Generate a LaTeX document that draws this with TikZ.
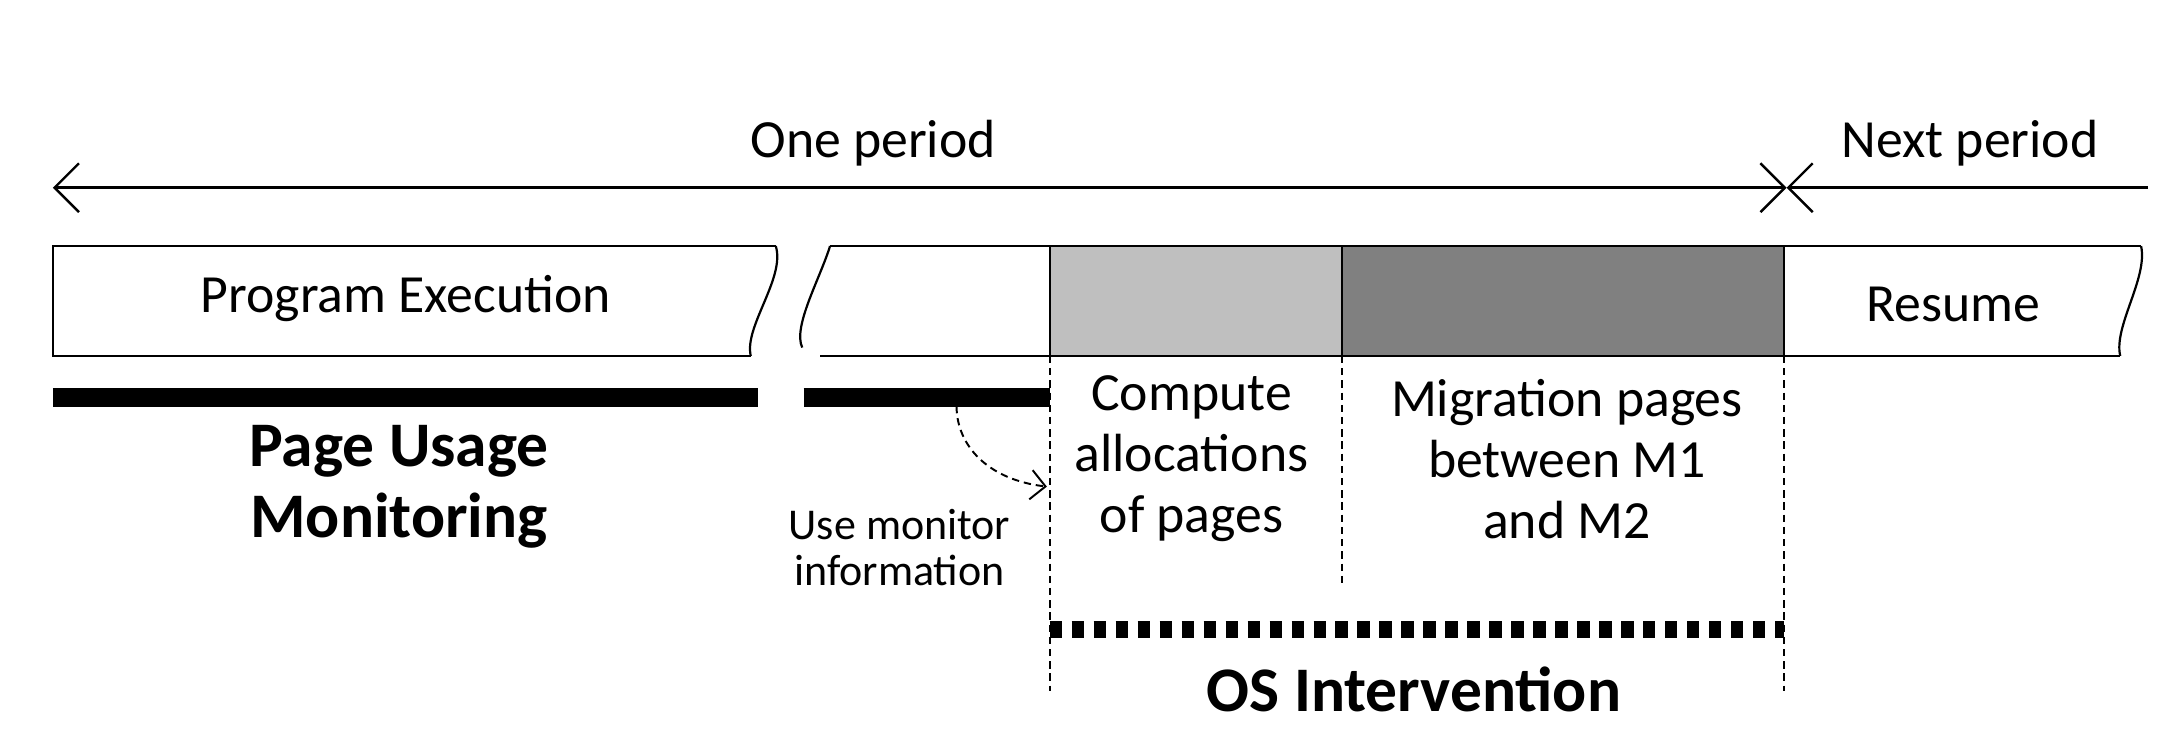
\documentclass[tikz,border=0pt]{standalone}
\usepackage{fontspec}
\setmainfont{Carlito}
\usetikzlibrary{arrows.meta}
\begin{document}
\begin{tikzpicture}[x=0.02cm,y=-0.02cm,
  lbl/.style={font=\fontsize{22}{25}\selectfont,align=center,inner sep=0},
  big/.style={font=\fontsize{26}{29}\selectfont\bfseries,align=center,inner sep=0},
  small/.style={font=\fontsize{18}{19}\selectfont,align=center,inner sep=0},
  per/.style={line width=1pt,{Straight Barb[length=10pt,width=20pt]}-{Straight Barb[length=10pt,width=20pt]}},
  bar/.style={line width=8pt},
  dsh/.style={densely dashed,line width=0.8pt}]
\useasboundingbox (0,0) rectangle (1568,540);
% period arrows
\coordinate (pL) at (38,135); \coordinate (pR) at (1285,135); \coordinate (nR) at (1545,135);
\draw[per] (pL) -- (pR);
\draw[line width=1pt,-{Straight Barb[length=10pt,width=20pt]}] (nR) -- (pR);
\node[lbl] (one) at (628,103) {One period};
\node[lbl] (next) at (1417,103) {Next period};
% box 1
\draw[line width=0.9pt] (558,177) -- (38,177) -- (38,256) -- (540,256);
\draw[line width=0.9pt] (558,177) .. controls (565,200) and (535,235) .. (540,256);
\node[lbl] (pe) at (292,215) {Program Execution};
% box 2 fills
\fill[gray!50] (755,177) rectangle (965,256);
\fill[gray!100!black!100,fill=black!50] (965,177) rectangle (1283,256);
\draw[line width=0.9pt] (597,177) -- (1540,177);
\draw[line width=0.9pt] (590,256) -- (1525,256);
\draw[line width=0.9pt] (597,177) .. controls (590,200) and (570,235) .. (577,250);
\draw[line width=0.9pt] (1540,177) .. controls (1545,200) and (1520,235) .. (1525,256);
\draw[line width=0.9pt] (755,177) -- (755,256) (965,177) -- (965,256) (1283,177) -- (1283,256);
\node[lbl] (res) at (1405,219) {Resume};
% monitoring bars
\draw[bar] (38,286) -- (545,286);
\draw[bar] (578,286) -- (755,286);
\node[big] (pum) at (287,350) {Page Usage\\Monitoring};
% dashed verticals
\draw[dsh] (755,256) -- (755,497);
\draw[dsh] (965,256) -- (965,420);
\draw[dsh] (1283,256) -- (1283,497);
\node[lbl] (comp) at (857,330) {Compute\\allocations\\of pages};
\node[lbl] (mig) at (1127,330) {Migration pages\\between M1\\and M2};
\node[small] (use) at (647,394) {Use monitor\\information};
\coordinate (c1) at (688,292); \coordinate (c2) at (753,350);
\draw[dsh,-{Straight Barb[length=6pt,width=12pt]}] (c1) .. controls (688,320) and (710,345) .. (c2);
% OS intervention
\draw[line width=7pt,dash pattern=on 5pt off 4pt] (755,453) -- (1283,453);
\node[big] (os) at (1017,496) {OS Intervention};
\end{tikzpicture}
\end{document}
